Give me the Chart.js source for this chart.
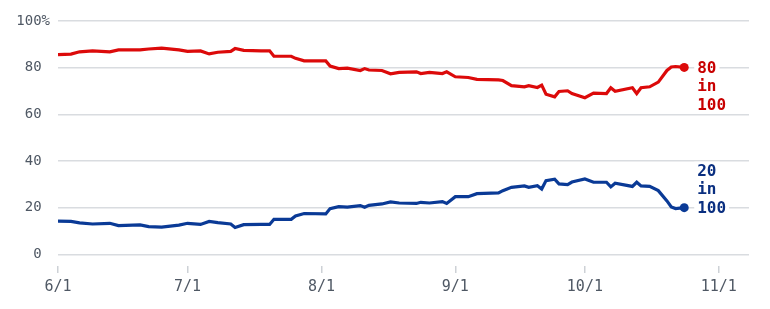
<!DOCTYPE html>
<html>
<head>
<meta charset="utf-8">
<script src="https://cdn.jsdelivr.net/npm/chart.js@4"></script>
<style>
  body { margin: 0; background: #fff; }
</style>
</head>
<body>
<canvas id="grafico" width="770" height="309"></canvas>
<script>
// days counted from 6/1
const days = [0, 3, 5, 8, 12, 14, 19, 21, 24, 28, 30, 33, 35, 37, 40, 41, 43, 47, 49, 50,
  54, 55, 57, 62, 63, 65, 67, 70, 71, 72, 75, 77, 79, 83, 84, 86, 89, 90, 92, 95,
  97, 102, 103, 105, 108, 109, 111, 112, 113, 115, 116, 118, 119, 122, 124, 127, 128, 129, 133, 134,
  135, 137, 139, 141, 142, 143, 145];

const redChance = [85.6, 85.8, 86.8, 87.2, 86.8, 87.6, 87.6, 88.0, 88.4, 87.6, 87.0, 87.2, 85.9, 86.6, 87.0, 88.2, 87.4, 87.2, 87.2, 84.9,
  84.9, 84.0, 82.9, 82.9, 80.7, 79.6, 79.8, 78.8, 79.6, 79.0, 78.8, 77.4, 78.0, 78.2, 77.5, 78.0, 77.5, 78.2, 76.1, 75.8,
  75.0, 74.8, 74.5, 72.3, 71.8, 72.3, 71.5, 72.5, 68.6, 67.5, 69.8, 70.1, 68.9, 67.1, 69.1, 68.9, 71.4, 69.9, 71.4, 68.9,
  71.4, 71.8, 73.8, 78.8, 80.3, 80.5, 80.1];

const blueChance = [14.2, 14.1, 13.5, 13.0, 13.3, 12.3, 12.6, 11.9, 11.7, 12.5, 13.3, 12.8, 14.1, 13.6, 13.0, 11.5, 12.7, 12.8, 12.8, 15.0,
  15.0, 16.4, 17.5, 17.3, 19.6, 20.4, 20.2, 20.9, 20.2, 21.0, 21.6, 22.5, 22.0, 21.8, 22.3, 22.0, 22.6, 21.8, 24.7, 24.7,
  26.0, 26.3, 27.3, 28.7, 29.3, 28.7, 29.4, 28.0, 31.6, 32.2, 30.2, 29.9, 31.0, 32.3, 30.9, 30.9, 28.9, 30.5, 29.1, 30.9,
  29.3, 29.1, 27.3, 22.9, 20.3, 19.6, 20.0];

const tickDays = [0, 30, 61, 92, 122, 153];
const tickLabels = ['6/1', '7/1', '8/1', '9/1', '10/1', '11/1'];
const yTicks = [0, 20, 40, 60, 80, 100];
const yLabels = [' 0 ', '20 ', '40 ', '60 ', '80 ', '100%'];

const redText = ['80', 'in', '100'];
const blueText = ['20', 'in', '100'];

const RED = '#dc0a0a';
const BLUE = '#0a3a96';

function puntos(values) {
  return values.map((v, i) => ({ x: days[i], y: v }));
}

// etiquetas al final de cada línea
const endLabels = {
  id: 'endLabels',
  afterDatasetsDraw(chart) {
    const ctx = chart.ctx;
    const lh = 18.5;
    ctx.save();
    ctx.font = 'bold 16px "DejaVu Sans Mono"';
    ctx.textBaseline = 'middle';
    ctx.textAlign = 'left';
    chart.data.datasets.forEach((ds, i) => {
      const meta = chart.getDatasetMeta(i);
      const pt = meta.data[meta.data.length - 1];
      const lines = ds.endText;
      lines.forEach((txt, k) => {
        const x = pt.x + 13;
        const y = ds.textDown ? pt.y + k * lh : pt.y - (lines.length - 1 - k) * lh;
        const w = ctx.measureText(txt).width;
        ctx.fillStyle = '#fff';
        ctx.fillRect(x - 3, y - 9, w + 6, 18);
        ctx.fillStyle = ds.textColor;
        ctx.fillText(txt, x, y + 1);
      });
    });
    ctx.restore();
  }
};

let ctx = document.getElementById('grafico').getContext('2d');
new Chart(ctx, {
  type: 'line',
  data: {
    datasets: [
      {
        data: puntos(redChance),
        borderColor: RED,
        backgroundColor: RED,
        borderWidth: 3.2,
        tension: 0,
        pointRadius: c => c.dataIndex === redChance.length - 1 ? 4.5 : 0,
        pointBorderWidth: 0,
        endText: redText,
        textDown: true,
        textColor: '#c80000'
      },
      {
        data: puntos(blueChance),
        borderColor: BLUE,
        backgroundColor: BLUE,
        borderWidth: 3.2,
        tension: 0,
        pointRadius: c => c.dataIndex === blueChance.length - 1 ? 4.5 : 0,
        pointBorderWidth: 0,
        endText: blueText,
        textDown: false,
        textColor: '#0a2f80'
      }
    ]
  },
  options: {
    responsive: false,
    animation: false,
    devicePixelRatio: 1,
    layout: { padding: { top: 21, right: 21, bottom: 8, left: 0 } },
    plugins: {
      legend: { display: false },
      tooltip: { enabled: false }
    },
    scales: {
      x: {
        type: 'linear',
        min: 0,
        max: 160,
        afterBuildTicks: s => { s.ticks = tickDays.map(v => ({ value: v })); },
        ticks: {
          callback: (v, i) => tickLabels[i],
          font: { family: 'DejaVu Sans Mono', size: 15 },
          color: '#4f5864',
          padding: 5,
          maxRotation: 0
        },
        grid: {
          drawOnChartArea: false,
          drawTicks: true,
          tickLength: 7,
          color: '#cdd1d6',
          lineWidth: 1.5
        },
        border: { display: false }
      },
      y: {
        min: -5,
        max: 100,
        afterBuildTicks: s => { s.ticks = yTicks.map(v => ({ value: v })); },
        afterFit: s => { s.width = 58; },
        ticks: {
          callback: (v, i) => yLabels[i],
          font: { family: 'DejaVu Sans Mono', size: 14 },
          color: '#4f5864',
          padding: 8
        },
        grid: {
          drawTicks: false,
          color: '#d9dce0',
          lineWidth: 1.5
        },
        border: { display: false }
      }
    }
  },
  plugins: [endLabels]
});
</script>
</body>
</html>
